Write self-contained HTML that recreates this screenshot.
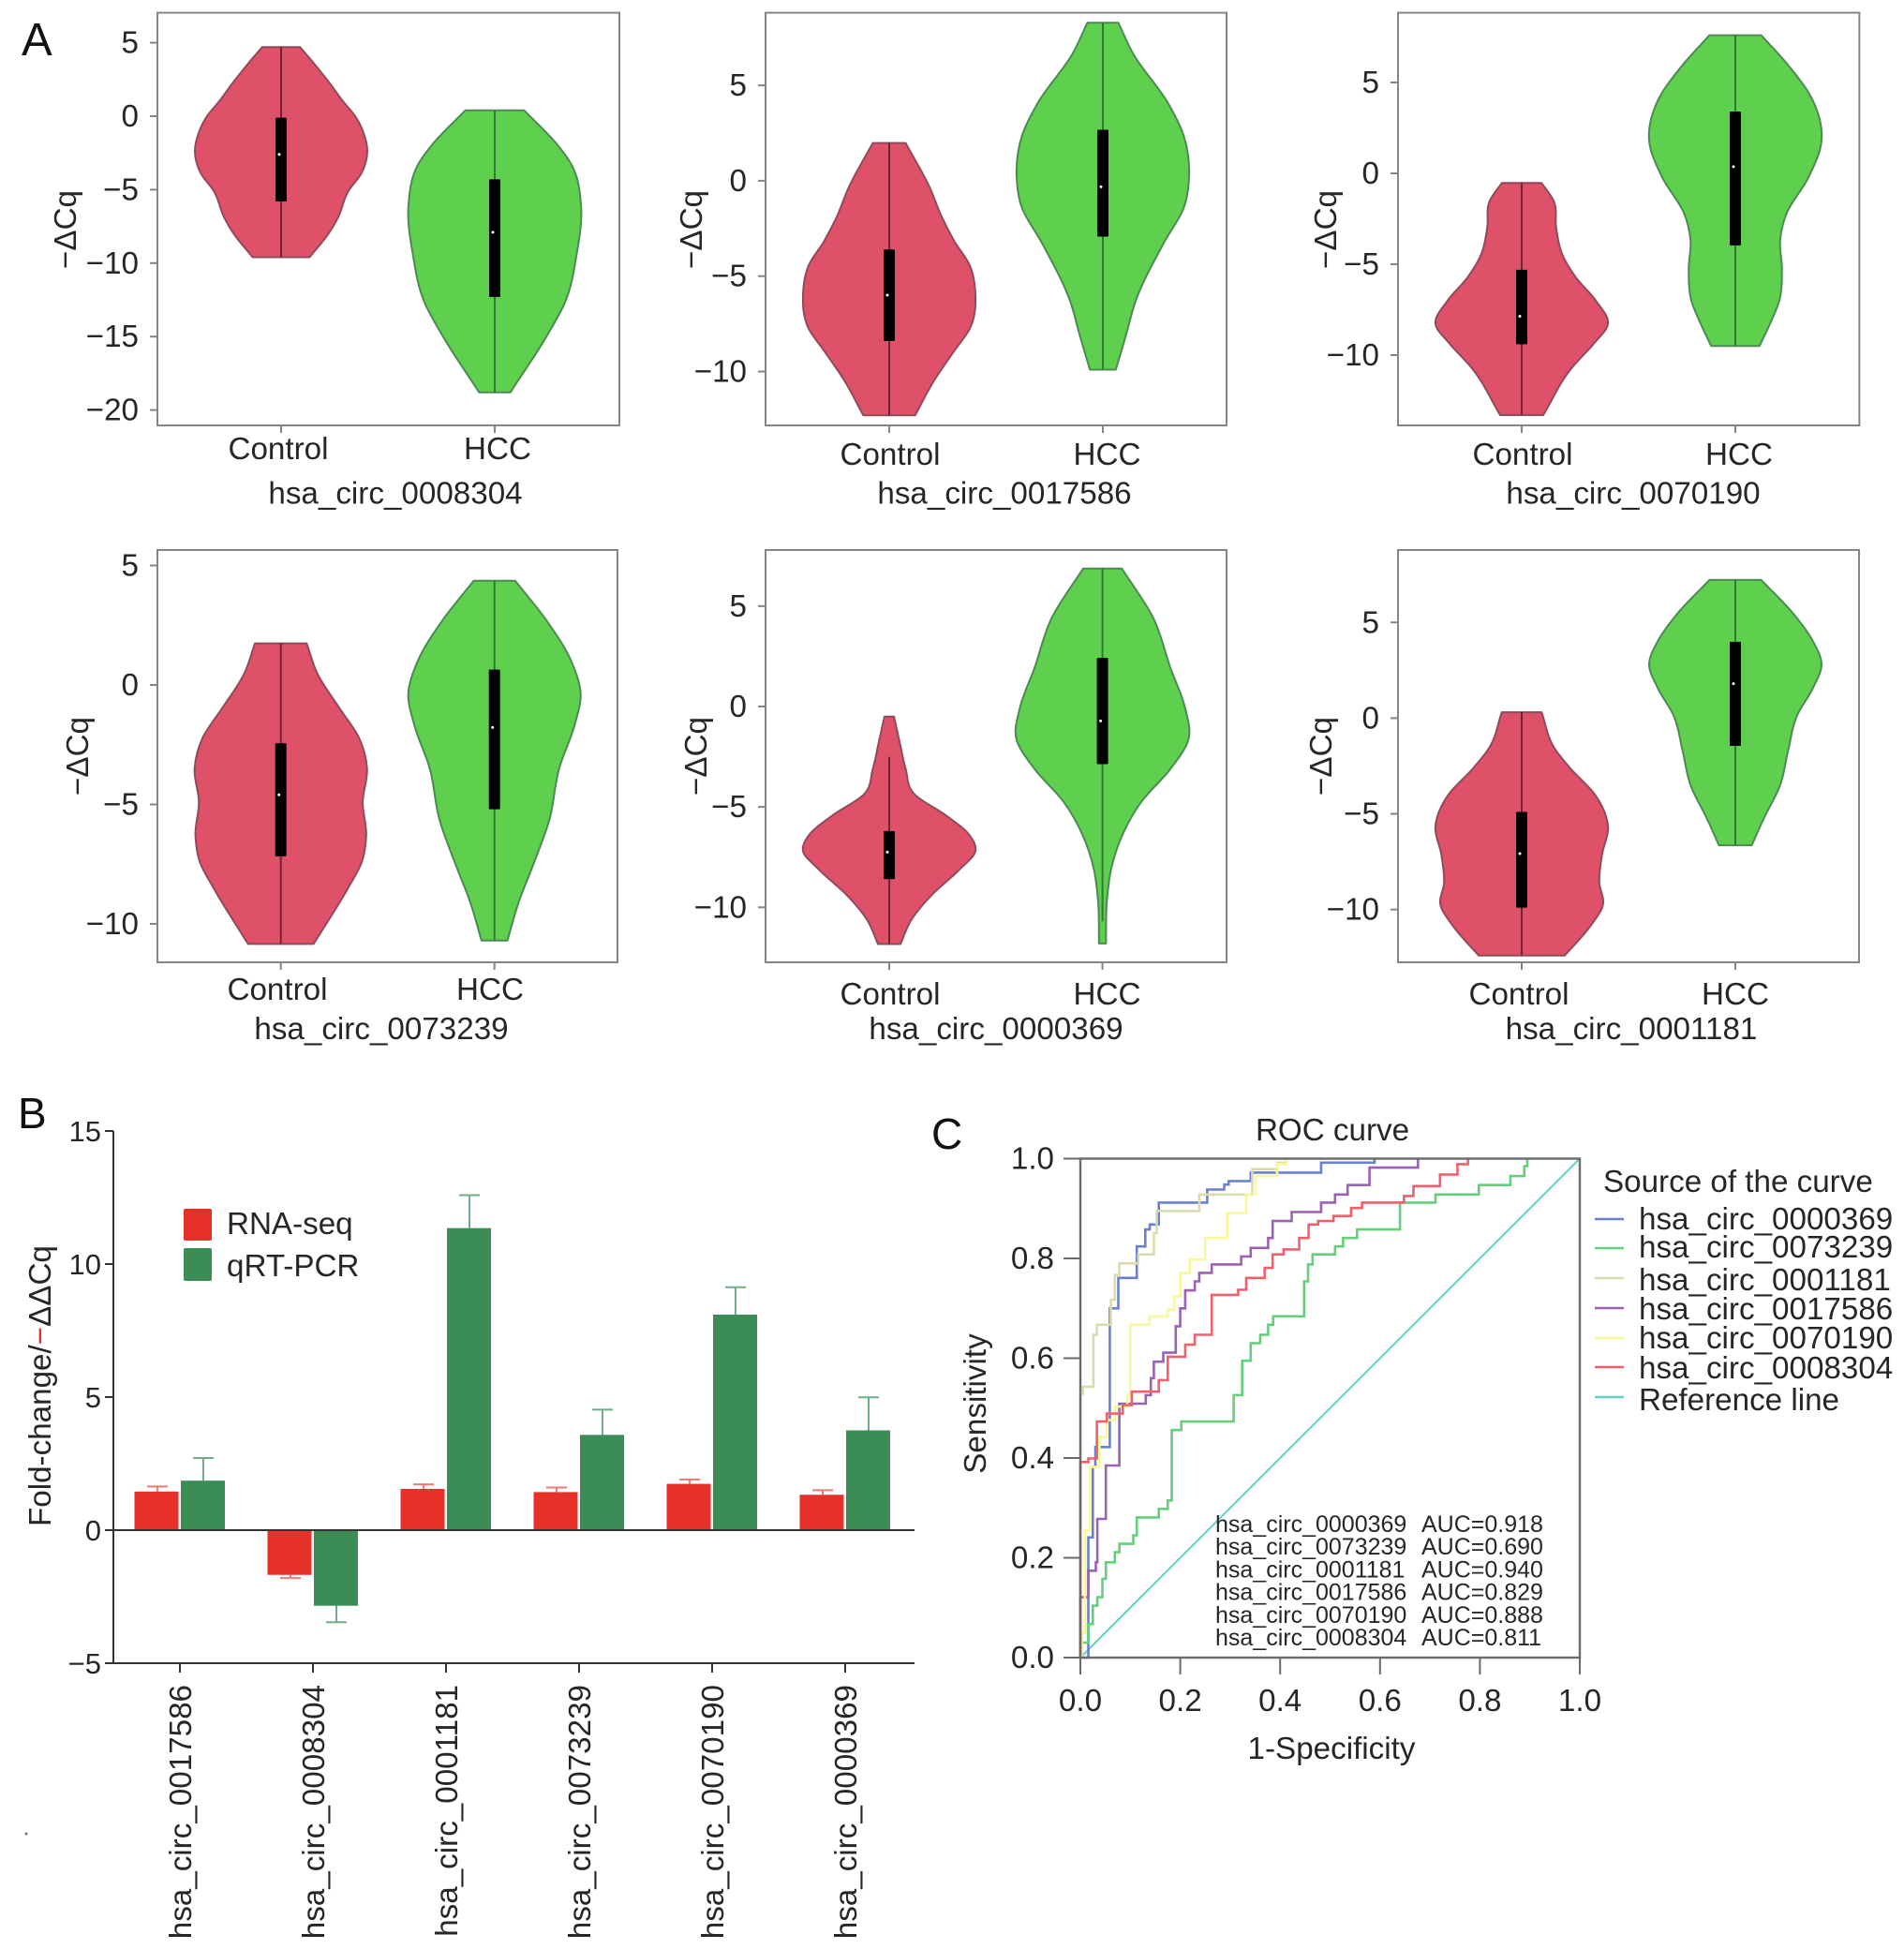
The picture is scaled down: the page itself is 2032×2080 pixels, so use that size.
<!DOCTYPE html>
<html lang="en">
<head>
<meta charset="utf-8">
<title>circRNA violin, bar and ROC figure</title>
<style>
html,body{margin:0;padding:0;background:#fff;}
#fig{display:block;width:2032px;height:2080px;}
text{font-family:"Liberation Sans",sans-serif;fill:#262626;}
</style>
</head>
<body>
<svg id="fig" xmlns="http://www.w3.org/2000/svg" width="2032" height="2080" viewBox="0 0 2032 2080">
  <rect x="0" y="0" width="2032" height="2080" fill="#ffffff"/>
  <text x="23" y="59" font-size="49" style="fill:#111">A</text>
  <text x="19" y="1204" font-size="46" style="fill:#111">B</text>
  <text x="994" y="1226" font-size="46" style="fill:#111">C</text>
  <g id="panelA"></g>
  <g id="panelB"></g>
  <g id="panelC"></g>
  <circle cx="28" cy="1957" r="1.5" fill="#777"/>
</svg>
<script>
/* ---------- Panel A: violin data (value, relative density, box, whisker) ---------- */
const p1ControlV=[4.7,3.6,2.2,1,0,-1.2,-2.4,-3.9,-5.1,-6.9,-8,-9.6];
const p1ControlD=[.22,.38,.57,.72,.86,.96,1,.93,.78,.66,.55,.33];
const p1ControlBox=[-0.1,-2.6,-5.8];
const p1ControlWhisker=[4.7,-9.6];
const p1HccV=[.4,-1.9,-3.3,-6,-9.4,-12.6,-14.9,-18.8];
const p1HccD=[.34,.72,.89,1,.95,.82,.61,.18];
const p1HccBox=[-4.3,-7.9,-12.3];
const p1HccWhisker=[.4,-18.8];

const p2ControlV=[1.98,-.35,-1.9,-3.2,-4.4,-6,-7.7,-8.95,-10.4,-12.3];
const p2ControlD=[.19,.47,.61,.76,.93,1,.94,.75,.53,.3];
const p2ControlBox=[-3.6,-6.0,-8.4];
const p2ControlWhisker=[1.98,-12.3];
const p2HccV=[8.28,6.67,4.04,2.46,.18,-1.4,-3.16,-6.3,-8.07,-9.9];
const p2HccD=[.18,.35,.76,.93,1,.94,.72,.38,.27,.15];
const p2HccBox=[2.67,-.32,-2.93];
const p2HccWhisker=[8.28,-9.9];

const p3ControlV=[-.53,-1.5,-3,-4.45,-5.74,-7,-8.3,-9.4,-10.7,-13.3];
const p3ControlD=[.23,.37,.40,.47,.63,.86,1,.83,.58,.25];
const p3ControlBox=[-5.3,-7.86,-9.4];
const p3ControlWhisker=[-.53,-13.3];
const p3HccV=[7.6,5.85,4,1.8,-.2,-2.25,-3.7,-5.2,-7,-8.3,-9.5];
const p3HccD=[.3,.63,.9,1,.85,.59,.52,.54,.51,.4,.28];
const p3HccBox=[3.4,.37,-3.96];
const p3HccWhisker=[7.6,-9.5];

const p4ControlV=[1.74,.43,-.97,-2.23,-3.49,-4.9,-6.3,-7.4,-8.5,-10.84];
const p4ControlD=[.3,.43,.68,.91,1,.95,.99,.94,.78,.38];
const p4ControlBox=[-2.44,-4.6,-7.17];
const p4ControlWhisker=[1.74,-10.84];
const p4HccV=[4.36,2.67,1,-.4,-1.67,-3.5,-5.6,-7.7,-9.1,-10.7];
const p4HccD=[.24,.61,.89,1,.93,.75,.64,.43,.28,.15];
const p4HccBox=[.64,-1.78,-5.2];
const p4HccWhisker=[4.36,-10.7];

const p5ControlV=[-.5,-1.75,-3.1,-4.4,-5.4,-6.4,-7.2,-8.1,-9.4,-10.6,-11.83];
const p5ControlD=[.055,.12,.19,.3,.65,.93,1,.82,.49,.26,.13];
const p5ControlBox=[-6.2,-7.25,-8.6];
const p5ControlWhisker=[-2.5,-11.83];
const p5HccV=[6.87,4.4,1.9,-.1,-1.6,-3.1,-4.75,-6.4,-8.1,-9.75,-11.8];
const p5HccD=[.225,.59,.79,.96,1,.79,.45,.23,.1,.05,.04];
const p5HccBox=[2.42,-.72,-2.87];
const p5HccWhisker=[6.87,-10.7];

const p6ControlV=[.31,-1.57,-2.6,-4,-5.6,-7.17,-8.57,-9.8,-10.84,-12.4];
const p6ControlD=[.23,.38,.56,.85,1,.93,.9,.94,.8,.5];
const p6ControlBox=[-4.9,-7.08,-9.9];
const p6ControlWhisker=[.31,-12.4];
const p6HccV=[7.22,5.42,4.02,2.8,1.57,.17,-1.75,-3.5,-5.24,-6.64];
const p6HccD=[.3,.68,.9,1,.9,.72,.61,.52,.33,.19];
const p6HccBox=[3.99,1.8,-1.45];
const p6HccWhisker=[7.22,-6.64];

const p1Ticks=[5,0,-5,-10,-15,-20];
const p2Ticks=[5,0,-5,-10];
const p3Ticks=[5,0,-5,-10];
const p4Ticks=[5,0,-5,-10];
const p5Ticks=[5,0,-5,-10];
const p6Ticks=[5,0,-5,-10];
const violinGroups=["Control","HCC"];
const violinTitles=["hsa_circ_0008304","hsa_circ_0017586","hsa_circ_0070190","hsa_circ_0073239","hsa_circ_0000369","hsa_circ_0001181"];

/* ---------- Panel B: bar data ---------- */
const barCategories=["hsa_circ_0017586","hsa_circ_0008304","hsa_circ_0001181","hsa_circ_0073239","hsa_circ_0070190","hsa_circ_0000369"];
const rnaSeqValues=[1.45,-1.68,1.55,1.43,1.74,1.33];
const rnaSeqErrorTips=[1.64,-1.8,1.72,1.6,1.9,1.5];
const qpcrValues=[1.86,-2.84,11.35,3.58,8.1,3.75];
const qpcrErrorTips=[2.71,-3.46,12.59,4.53,9.13,4.99];
const barTicks=[15,10,5,0,-5];
const barLegend=["RNA-seq","qRT-PCR"];

/* ---------- Panel C: ROC data ---------- */
const rocSeriesNames=["hsa_circ_0000369","hsa_circ_0073239","hsa_circ_0001181","hsa_circ_0017586","hsa_circ_0070190","hsa_circ_0008304"];
const rocAuc=["0.918","0.690","0.940","0.829","0.888","0.811"];
const rocFpr0000369=[0,.016,.025,.030,.059,.076,.113,.130,.139,.157,.254,.288,.297,.341,.482,.589];
const rocTpr0000369=[0,.241,.382,.422,.700,.761,.824,.858,.868,.912,.938,.948,.955,.972,.992,1];
const rocFpr0073239=[0,.003,.012,.016,.025,.034,.044,.051,.069,.078,.106,.113,.157,.175,.183,.202,.307,.324,.341,.36,.376,.386,.448,.456,.465,.51,.526,.554,.64,.711,.798,.861,.889,.895];
const rocTpr0073239=[0,.03,.03,.067,.104,.121,.158,.191,.211,.228,.245,.281,.298,.315,.456,.473,.526,.595,.63,.647,.667,.684,.754,.788,.808,.824,.841,.858,.912,.928,.947,.965,.985,1];
const rocFpr0001181=[0,.005,.026,.033,.061,.069,.078,.116,.147,.153,.238,.344,.394,.413];
const rocTpr0001181=[.529,.543,.647,.667,.717,.767,.79,.808,.851,.895,.928,.979,.992,1];
const rocFpr0017586=[0,.016,.031,.034,.051,.078,.131,.141,.147,.166,.191,.2,.21,.229,.238,.263,.322,.341,.376,.385,.423,.482,.51,.535,.579,.676];
const rocTpr0017586=[.121,.174,.191,.278,.385,.509,.526,.56,.593,.611,.664,.7,.736,.754,.771,.788,.804,.821,.841,.875,.893,.912,.928,.947,.982,1];
const rocFpr0070190=[.003,.009,.019,.038,.053,.069,.094,.1,.138,.175,.188,.2,.219,.25,.294,.332,.351,.394,.413];
const rocTpr0070190=[.05,.255,.382,.442,.476,.503,.526,.667,.684,.697,.724,.771,.798,.841,.891,.928,.965,.989,1];
const rocFpr0008304=[0,.016,.033,.053,.085,.103,.157,.175,.21,.229,.263,.316,.332,.369,.385,.407,.438,.457,.476,.507,.542,.564,.648,.667,.72,.755,.776];
const rocTpr0008304=[.392,.399,.473,.489,.506,.533,.556,.603,.627,.647,.727,.737,.761,.781,.808,.818,.841,.868,.875,.885,.901,.912,.925,.945,.968,.989,1];
const referenceLineX=[0,1];
const referenceLineY=[0,1];
const rocTicks=[0,0.2,0.4,0.6,0.8,1];

/* ---------- helpers ---------- */
const NS="http://www.w3.org/2000/svg";
function mk(parent,tag,attrs,txt){
  const e=document.createElementNS(NS,tag);
  for(const k in attrs){e.setAttribute(k,attrs[k]);}
  if(txt!==undefined){e.textContent=txt;}
  parent.appendChild(e);
  return e;
}
function fmtMinus(v){return v<0?"\u2212"+Math.abs(v):String(v);}
/* Hermite spline through points whose y is monotonic; tangents weighted by spacing */
function splineSeg(p){
  const n=p.length,h=[],s=[],m=[];
  for(let i=0;i<n-1;i++){
    h[i]=p[i+1][1]-p[i][1];
    s[i]=(p[i+1][0]-p[i][0])/h[i];
  }
  m[0]=s[0];
  m[n-1]=s[n-2];
  for(let i=1;i<n-1;i++){
    m[i]=(h[i]*s[i-1]+h[i-1]*s[i])/(h[i-1]+h[i]);
  }
  let d="";
  for(let i=0;i<n-1;i++){
    const c1x=p[i][0]+m[i]*h[i]/3,c1y=p[i][1]+h[i]/3;
    const c2x=p[i+1][0]-m[i+1]*h[i]/3,c2y=p[i+1][1]-h[i]/3;
    d+=" C"+c1x.toFixed(1)+" "+c1y.toFixed(1)+" "+c2x.toFixed(1)+" "+c2y.toFixed(1)+" "+p[i+1][0].toFixed(1)+" "+p[i+1][1].toFixed(1);
  }
  return d;
}

/* ---------- Panel A ---------- */
const panelLayouts=[
 {frame:[168,661,13.6,454],zero:124,unit:15.68,cx:[300,528],tickLab:[297,531],base:490,title:[422,537.5],yl:[81,245],
  ticks:p1Ticks,series:[[p1ControlV,p1ControlD,p1ControlBox,p1ControlWhisker],[p1HccV,p1HccD,p1HccBox,p1HccWhisker]]},
 {frame:[817,1309,13.6,454],zero:192.9,unit:20.36,cx:[949,1177],tickLab:[950,1181.5],base:496,title:[1072,537.5],yl:[749,245],
  ticks:p2Ticks,series:[[p2ControlV,p2ControlD,p2ControlBox,p2ControlWhisker],[p2HccV,p2HccD,p2HccBox,p2HccWhisker]]},
 {frame:[1492,1984.4,13.6,454],zero:185,unit:19.4,cx:[1624,1852],tickLab:[1625,1856],base:496,title:[1743,537.5],yl:[1426,245],
  ticks:p3Ticks,series:[[p3ControlV,p3ControlD,p3ControlBox,p3ControlWhisker],[p3HccV,p3HccD,p3HccBox,p3HccWhisker]]},
 {frame:[168,659,587,1027],zero:731,unit:25.5,cx:[299.7,527.7],tickLab:[296,523],base:1067,title:[407,1109],yl:[94,807],
  ticks:p4Ticks,series:[[p4ControlV,p4ControlD,p4ControlBox,p4ControlWhisker],[p4HccV,p4HccD,p4HccBox,p4HccWhisker]]},
 {frame:[817,1309,587,1027],zero:754,unit:21.43,cx:[949,1176.6],tickLab:[950,1181.5],base:1072,title:[1063,1109],yl:[754,807],
  ticks:p5Ticks,series:[[p5ControlV,p5ControlD,p5ControlBox,p5ControlWhisker],[p5HccV,p5HccD,p5HccBox,p5HccWhisker]]},
 {frame:[1492,1984,587,1027],zero:766.4,unit:20.43,cx:[1624,1852],tickLab:[1621,1852],base:1072,title:[1741,1109],yl:[1421,807],
  ticks:p6Ticks,series:[[p6ControlV,p6ControlD,p6ControlBox,p6ControlWhisker],[p6HccV,p6HccD,p6HccBox,p6HccWhisker]]}
];
const VIOLIN_HALF=92, TXT=33.2;
const violinFill=["#df5069","#5ed04d"];
const violinEdge=["#8f4a5c","#4c8a52"];
const violinLine=["#6f2436","#2f7a38"];
const panelA=document.getElementById("panelA");
panelLayouts.forEach(function(L,pi){
  const g=mk(panelA,"g",{});
  
  
  const yOf=function(v){return L.zero-v*L.unit;};
  const fr=mk(g,"rect",{x:L.frame[0],y:L.frame[2],width:L.frame[1]-L.frame[0],height:L.frame[3]-L.frame[2],fill:"#fff",stroke:"#858585","stroke-width":2});
  
  
  L.ticks.forEach(function(t){
    const tk=mk(g,"line",{x1:L.frame[0]-8,x2:L.frame[0],y1:yOf(t),y2:yOf(t),stroke:"#858585","stroke-width":2});
    
    
    const lb=mk(g,"text",{x:L.frame[0]-20,y:yOf(t)+11,"text-anchor":"end","font-size":TXT},fmtMinus(t));
    
    
  });
  L.series.forEach(function(S,si){
    const cx=L.cx[si];
    const vals=S[0],dens=S[1],box=S[2],wh=S[3];
    const right=vals.map(function(v,i){return [cx+dens[i]*VIOLIN_HALF,yOf(v)];});
    const left=vals.map(function(v,i){return [cx-dens[i]*VIOLIN_HALF,yOf(v)];}).reverse();
    const d="M"+right[0][0].toFixed(1)+" "+right[0][1].toFixed(1)+splineSeg(right)+" L"+left[0][0].toFixed(1)+" "+left[0][1].toFixed(1)+splineSeg(left)+" Z";
    const body=mk(g,"path",{d:d,fill:violinFill[si],stroke:violinEdge[si],"stroke-width":2,"stroke-linejoin":"round"});
    
    
    const wl=mk(g,"line",{x1:cx,x2:cx,y1:yOf(wh[0]),y2:yOf(wh[1]),stroke:violinLine[si],"stroke-width":2});
    
    
    const bx=mk(g,"rect",{x:cx-6,y:yOf(box[0]),width:12,height:yOf(box[2])-yOf(box[0]),fill:"#000",rx:1});
    
    
    const md=mk(g,"circle",{cx:cx-2,cy:yOf(box[1]),r:1.5,fill:"#fff"});
    
    
    const tk=mk(g,"line",{x1:cx,x2:cx,y1:L.frame[3],y2:L.frame[3]+8,stroke:"#858585","stroke-width":2});
    
    
    const lb=mk(g,"text",{x:L.tickLab[si],y:L.base,"text-anchor":"middle","font-size":TXT},violinGroups[si]);
    
    
  });
  const tl=mk(g,"text",{x:L.title[0],y:L.title[1],"text-anchor":"middle","font-size":TXT},violinTitles[pi]);
  
  
  const yl=mk(g,"text",{x:0,y:0,"text-anchor":"middle","font-size":TXT,transform:"translate("+L.yl[0]+" "+L.yl[1]+") rotate(-90)"},"\u2212\u0394Cq");
  
  
});

/* ---------- Panel B ---------- */
(function(){
  const g=document.getElementById("panelB");
  const yOf=function(v){return 1633-v*28.4;};
  const xOf=function(i){return 192+i*142;};
  const BW=47,AX="#333";
  barCategories.forEach(function(c,i){
    const tx=xOf(i);
    [[rnaSeqValues,rnaSeqErrorTips,"#e8302b","#ef7b78",-48.5,-24,"rna-seq"],[qpcrValues,qpcrErrorTips,"#3b8c55","#71ad88",1,25,"qrt-pcr"]].forEach(function(S){
      const v=S[0][i],tip=S[1][i];
      const ex=tx+S[5];
      const el=mk(g,"line",{x1:ex,x2:ex,y1:yOf(v),y2:yOf(tip),stroke:S[3],"stroke-width":2});
      
      
      const cp=mk(g,"line",{x1:ex-11,x2:ex+11,y1:yOf(tip),y2:yOf(tip),stroke:S[3],"stroke-width":2});
      
      
      const y1=Math.min(yOf(0),yOf(v)),h=Math.abs(yOf(v)-yOf(0));
      const r=mk(g,"rect",{x:tx+S[4],y:y1,width:BW,height:h,fill:S[2]});
      
      
    });
    const tk=mk(g,"line",{x1:tx,x2:tx,y1:yOf(-5),y2:yOf(-5)+10,stroke:AX,"stroke-width":2});
    
    
    const lb=mk(g,"text",{x:0,y:0,"text-anchor":"end","font-size":TXT,transform:"translate("+(tx+12)+" 1798) rotate(-90)"},c);
    
    
  });
  const ya=mk(g,"line",{x1:121,x2:121,y1:yOf(15),y2:yOf(-5),stroke:AX,"stroke-width":2});
  
  
  const xa=mk(g,"line",{x1:120,x2:976,y1:yOf(-5),y2:yOf(-5),stroke:AX,"stroke-width":2});
  
  
  const za=mk(g,"line",{x1:120,x2:976,y1:yOf(0),y2:yOf(0),stroke:AX,"stroke-width":2});
  
  
  barTicks.forEach(function(t){
    const tk=mk(g,"line",{x1:112,x2:121,y1:yOf(t),y2:yOf(t),stroke:AX,"stroke-width":2});
    
    
    const lb=mk(g,"text",{x:108,y:yOf(t)+11,"text-anchor":"end","font-size":31},fmtMinus(t));
    
    
  });
  const yl=mk(g,"text",{x:0,y:0,"font-size":TXT,"text-anchor":"start",transform:"translate(54 1629) rotate(-90)"});
  
  
  mk(yl,"tspan",{},"Fold-change/");
  mk(yl,"tspan",{style:"fill:#e8302b"},"\u2212");
  mk(yl,"tspan",{},"\u0394\u0394Cq");
  const s1=mk(g,"rect",{x:196,y:1290,width:30,height:34,rx:2,fill:"#e8302b"});
  
  
  const s2=mk(g,"rect",{x:196,y:1332,width:30,height:35,rx:2,fill:"#3b8c55"});
  
  
  const t1=mk(g,"text",{x:242,y:1317,"font-size":TXT},barLegend[0]);
  
  
  const t2=mk(g,"text",{x:242,y:1362,"font-size":TXT},barLegend[1]);
  
  
})();

/* ---------- Panel C ---------- */
(function(){
  const g=document.getElementById("panelC");
  const X0=1153,X1=1686,Y0=1769,Y1=1236.5,AX="#6a6a6a";
  const xOf=function(v){return X0+v*(X1-X0);};
  const yOf=function(v){return Y0-v*(Y0-Y1);};
  const curves=[
    [rocFpr0000369,rocTpr0000369,"#6c80d2"],
    [rocFpr0073239,rocTpr0073239,"#65cf7c"],
    [rocFpr0001181,rocTpr0001181,"#dadcae"],
    [rocFpr0017586,rocTpr0017586,"#9a62b2"],
    [rocFpr0070190,rocTpr0070190,"#f9f99c"],
    [rocFpr0008304,rocTpr0008304,"#f0606c"]
  ];
  const rl=mk(g,"line",{x1:xOf(referenceLineX[0]),y1:yOf(referenceLineY[0]),x2:xOf(referenceLineX[1]),y2:yOf(referenceLineY[1]),stroke:"#62d0c2","stroke-width":2});
  
  
  curves.forEach(function(C,ci){
    let d="M"+xOf(0)+" "+yOf(0);
    C[0].forEach(function(fx,i){
      d+=" H"+xOf(fx).toFixed(1)+" V"+yOf(C[1][i]).toFixed(1);
    });
    const p=mk(g,"path",{d:d,fill:"none",stroke:C[2],"stroke-width":2.6});
    
    
  });
  const fr=mk(g,"rect",{x:X0,y:Y1,width:X1-X0,height:Y0-Y1,fill:"none",stroke:AX,"stroke-width":2.4});
  
  
  rocTicks.forEach(function(t){
    const lab=t.toFixed(1);
    const a=mk(g,"line",{x1:X0-18,x2:X0,y1:yOf(t),y2:yOf(t),stroke:AX,"stroke-width":2});
    
    
    const b=mk(g,"text",{x:1125,y:yOf(t)+11,"text-anchor":"end","font-size":TXT},lab);
    
    
    const c=mk(g,"line",{x1:xOf(t),x2:xOf(t),y1:Y0,y2:Y0+18,stroke:AX,"stroke-width":2});
    
    
    const e=mk(g,"text",{x:xOf(t),y:1826,"text-anchor":"middle","font-size":TXT},lab);
    
    
  });
  const ti=mk(g,"text",{x:1422,y:1217,"text-anchor":"middle","font-size":TXT},"ROC curve");
  
  
  const xt=mk(g,"text",{x:1421,y:1877,"text-anchor":"middle","font-size":TXT},"1-Specificity");
  
  
  const yt=mk(g,"text",{x:0,y:0,"text-anchor":"middle","font-size":TXT,transform:"translate(1052 1498) rotate(-90)"},"Sensitivity");
  
  
  const lt=mk(g,"text",{x:1711,y:1272,"font-size":33.2},"Source of the curve");
  
  
  const legendBase=[1312,1342,1377,1408,1439,1471,1505];
  const legendLine=[1301,1332,1364,1396,1428,1459,1491];
  rocSeriesNames.concat(["Reference line"]).forEach(function(n,i){
    const col=i<6?curves[i][2]:"#62d0c2";
    const ln=mk(g,"line",{x1:1702,x2:1733,y1:legendLine[i],y2:legendLine[i],stroke:col,"stroke-width":2.5});
    
    
    const tx=mk(g,"text",{x:1749,y:legendBase[i],"font-size":33.2},n);
    
    
  });
  rocSeriesNames.forEach(function(n,i){
    const by=1635+i*24.2;
    const a=mk(g,"text",{x:1297,y:by,"font-size":25},n);
    
    
    const b=mk(g,"text",{x:1517,y:by,"font-size":25},"AUC="+rocAuc[i]);
    
    
  });
})();
</script>
</body>
</html>
